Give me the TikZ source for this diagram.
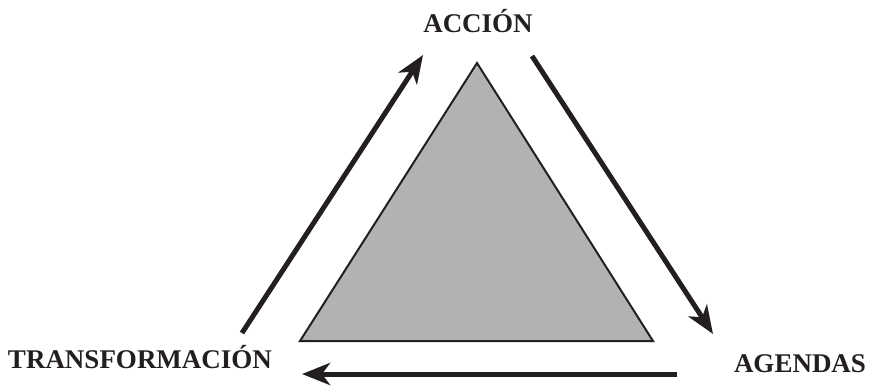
\documentclass[tikz,border=0pt]{standalone}
\usepackage{fontspec}
\setmainfont{Liberation Serif}
\usetikzlibrary{arrows.meta}
\definecolor{ink}{HTML}{231F20}

\begin{document}
\begin{tikzpicture}[
    x=1pt,
    y=-1pt,
    every node/.style={font=\fontsize{27}{30}\selectfont\bfseries, text=ink},
    label/.style={anchor=base, inner sep=0pt},
    cycle/.style={draw=ink, line width=5pt, -{Stealth[length=28pt, width=22pt, inset=8pt]}},
    core/.style={draw=ink, line width=2pt, fill=black!30, line join=miter}
]
    \useasboundingbox (0,0) rectangle (869,386);

    \node[label] (accion) at (478,32) {ACCIÓN};
    \node[label] (agendas) at (800,372) {AGENDAS};
    \node[label] (transf) at (140,368) {TRANSFORMACIÓN};

    \draw[core] (477,63) -- (653,341) -- (300,341) -- cycle;

    \coordinate (lt) at (242,333);
    \coordinate (lh) at (423,55);
    \coordinate (rt) at (532,56);
    \coordinate (rh) at (713,334);
    \coordinate (bt) at (677,374);
    \coordinate (bh) at (302,374);

    \draw[cycle] (lt) -- (lh);
    \draw[cycle] (rt) -- (rh);
    \draw[cycle] (bt) -- (bh);
\end{tikzpicture}
\end{document}
